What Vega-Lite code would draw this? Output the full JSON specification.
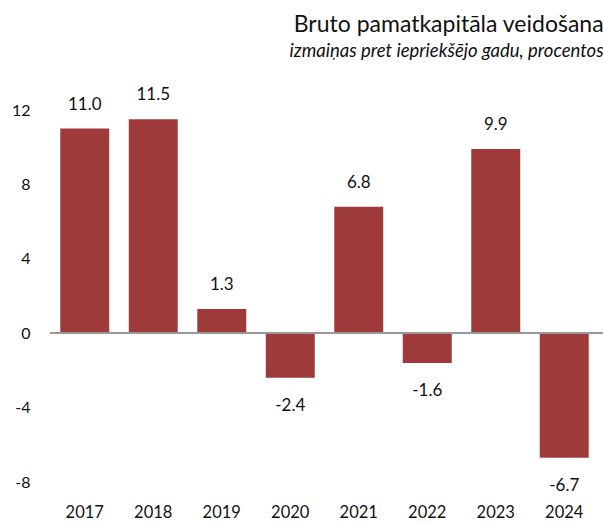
{
  "$schema": "https://vega.github.io/schema/vega-lite/v6.json",
  "width": 549,
  "height": 372,
  "autosize": "none",
  "padding": {"left": 50, "top": 110, "right": 4, "bottom": 42},
  "background": "white",
  "config": {
    "view": {"stroke": null},
    "font": "Lato"
  },
  "title": {
    "text": "Bruto pamatkapitāla veidošana",
    "subtitle": "izmaiņas pret iepriekšējo gadu, procentos",
    "anchor": "end",
    "fontSize": 23,
    "fontWeight": "normal",
    "color": "#111",
    "subtitleFontSize": 18.5,
    "subtitleFontStyle": "italic",
    "subtitleColor": "#111",
    "subtitlePadding": 5,
    "offset": 26,
    "font": "Lato",
    "subtitleFont": "Lato"
  },
  "data": {
    "values": [
      {"year": "2017", "value": 11.0},
      {"year": "2018", "value": 11.5},
      {"year": "2019", "value": 1.3},
      {"year": "2020", "value": -2.4},
      {"year": "2021", "value": 6.8},
      {"year": "2022", "value": -1.6},
      {"year": "2023", "value": 9.9},
      {"year": "2024", "value": -6.7}
    ]
  },
  "transform": [
    {"calculate": "replace(format(datum.value, '.1f'), '\u2212', '-')", "as": "label"}
  ],
  "encoding": {
    "x": {
      "field": "year",
      "type": "ordinal",
      "scale": {"paddingInner": 0.285, "paddingOuter": 0.15},
      "axis": {
        "title": null,
        "labelAngle": 0,
        "domain": false,
        "ticks": false,
        "labelPadding": 22,
        "labelFontSize": 16.5,
        "labelColor": "#111",
        "labelFont": "Lato"
      }
    },
    "y": {
      "field": "value",
      "type": "quantitative",
      "scale": {"domain": [-8, 12], "nice": false},
      "axis": {
        "title": null,
        "values": [-8, -4, 0, 4, 8, 12],
        "labelExpr": "datum.value < 0 ? '-' + abs(datum.value) : '' + datum.value",
        "grid": false,
        "domain": false,
        "ticks": false,
        "labelPadding": 20,
        "labelFontSize": 16,
        "labelColor": "#111",
        "labelFont": "Lato"
      }
    }
  },
  "layer": [
    {"mark": {"type": "bar", "color": "#9E3B3A"}},
    {
      "mark": {"type": "rule", "color": "#999999", "strokeWidth": 1.2},
      "encoding": {"y": {"datum": 0}, "x": {"value": 0}, "x2": {"value": 553}}
    },
    {
      "transform": [{"filter": "datum.value >= 0"}],
      "mark": {"type": "text", "dy": -24, "fontSize": 17, "color": "#111", "font": "Lato"},
      "encoding": {"text": {"field": "label", "type": "nominal"}}
    },
    {
      "transform": [{"filter": "datum.value < 0"}],
      "mark": {"type": "text", "dy": 28, "fontSize": 17, "color": "#111", "font": "Lato"},
      "encoding": {"text": {"field": "label", "type": "nominal"}}
    }
  ]
}
